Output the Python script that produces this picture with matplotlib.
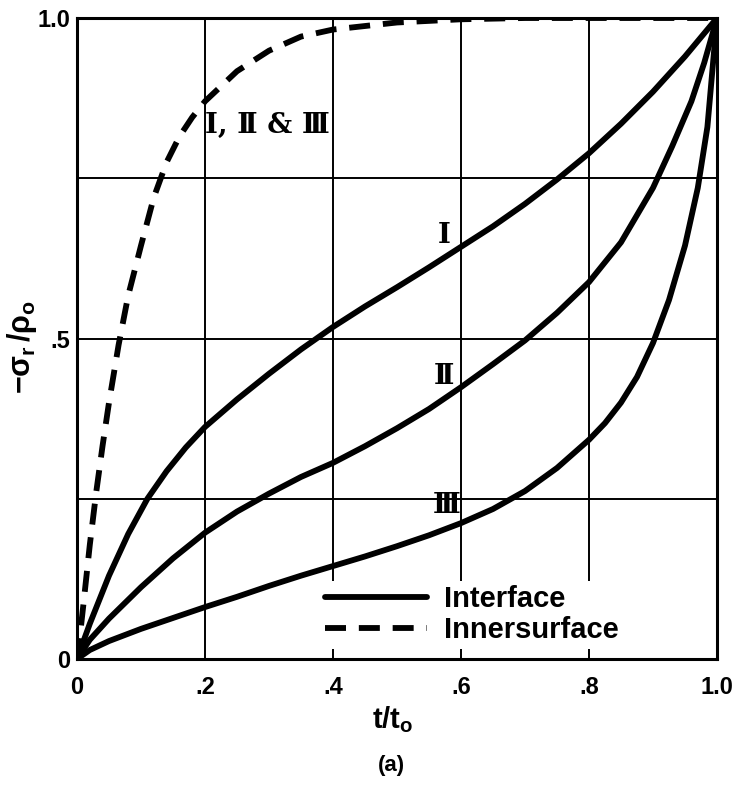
import numpy as np
import matplotlib
matplotlib.use("Agg")
import matplotlib.pyplot as plt

# Valores (t/t0, -sigma_r/rho_0)
t_inner = [0, 0.005, 0.01, 0.02, 0.03, 0.04, 0.05, 0.065, 0.08, 0.1, 0.12, 0.14, 0.16, 0.18, 0.2,
           0.25, 0.3, 0.35, 0.4, 0.5, 0.6, 0.7, 1.0]
s_inner = [0, 0.04, 0.085, 0.178, 0.26, 0.333, 0.4, 0.49, 0.567, 0.645, 0.72, 0.775, 0.815, 0.845, 0.87,
           0.917, 0.949, 0.971, 0.982, 0.993, 0.998, 1.0, 1.0]

t_I = [0, 0.02, 0.05, 0.08, 0.11, 0.14, 0.17, 0.2, 0.25, 0.3, 0.35, 0.4, 0.45, 0.5, 0.55, 0.6,
       0.65, 0.7, 0.75, 0.8, 0.85, 0.9, 0.95, 1.0]
s_I = [0, 0.055, 0.13, 0.195, 0.25, 0.293, 0.33, 0.362, 0.405, 0.445, 0.483, 0.518, 0.55, 0.58, 0.611, 0.643,
       0.675, 0.71, 0.748, 0.789, 0.835, 0.885, 0.94, 1.0]

t_II = [0, 0.02, 0.05, 0.1, 0.15, 0.2, 0.25, 0.3, 0.35, 0.4, 0.45, 0.5, 0.55, 0.6, 0.65, 0.7,
        0.75, 0.8, 0.85, 0.9, 0.93, 0.96, 0.98, 1.0]
s_II = [0, 0.03, 0.063, 0.112, 0.157, 0.197, 0.23, 0.258, 0.284, 0.306, 0.332, 0.36, 0.39, 0.424, 0.46, 0.497,
        0.54, 0.588, 0.65, 0.735, 0.8, 0.87, 0.93, 1.0]

t_III = [0, 0.02, 0.05, 0.1, 0.15, 0.2, 0.25, 0.3, 0.35, 0.4, 0.45, 0.5, 0.55, 0.6, 0.65, 0.7,
         0.75, 0.8, 0.825, 0.85, 0.875, 0.9, 0.925, 0.95, 0.97, 0.985, 1.0]
s_III = [0, 0.014, 0.028, 0.047, 0.064, 0.081, 0.097, 0.114, 0.13, 0.145, 0.16, 0.176, 0.193, 0.212, 0.234, 0.262,
         0.298, 0.342, 0.368, 0.4, 0.44, 0.493, 0.56, 0.645, 0.735, 0.83, 1.0]

x_ticks = [0, 0.2, 0.4, 0.6, 0.8, 1.0]
x_ticklabels = ['0', '.2', '.4', '.6', '.8', '1.0']
y_ticks = [0, 0.25, 0.5, 0.75, 1.0]
y_ticklabels = ['0', '', '.5', '', '1.0']

plt.rcParams['mathtext.fontset'] = 'custom'
plt.rcParams['mathtext.rm'] = 'Liberation Sans:bold'
plt.rcParams['mathtext.it'] = 'Liberation Sans:bold'
plt.rcParams['mathtext.bf'] = 'Liberation Sans:bold'

fig = plt.figure(figsize=(7.33, 7.9), dpi=100)
ax = fig.add_axes([77/733, 1 - 659/790, 640/733, 641/790])

lw = 4.2
ax.plot(t_I, s_I, color='black', lw=lw, solid_capstyle='round', solid_joinstyle='round', label='Interface')
ax.plot(t_II, s_II, color='black', lw=lw, solid_capstyle='round', solid_joinstyle='round')
ax.plot(t_III, s_III, color='black', lw=lw, solid_capstyle='round', solid_joinstyle='round')
ax.plot(t_inner, s_inner, color='black', lw=lw, dashes=(3.6, 2.2), label='Innersurface')

ax.set_xlim(0, 1.0)
ax.set_ylim(0, 1.0)
ax.set_xticks(x_ticks)
ax.set_xticklabels(x_ticklabels)
ax.set_yticks(y_ticks)
ax.set_yticklabels(y_ticklabels)
ax.tick_params(length=0, labelsize=17)
ax.tick_params(axis='x', pad=12)
ax.tick_params(axis='y', pad=5)
for lab in ax.get_xticklabels() + ax.get_yticklabels():
    lab.set_fontfamily('Liberation Sans')
    lab.set_fontweight('bold')
ax.grid(True, color='black', lw=1.4)
for sp in ax.spines.values():
    sp.set_linewidth(2.2)

# etiquetas de las curvas
rom = dict(fontsize=20, fontweight='bold', family=['DejaVu Serif', 'DejaVu Sans'], ha='center', va='center')
ax.text(0.574, 0.661, 'Ⅰ', **rom)
ax.text(0.574, 0.44, 'Ⅱ', **rom)
ax.text(0.577, 0.239, 'Ⅲ', **rom)
ax.text(0.2, 0.833, 'Ⅰ, Ⅱ & Ⅲ', fontsize=20, fontweight='bold',
        family=['DejaVu Serif', 'DejaVu Sans'], ha='left', va='center')

leg = ax.legend(loc='center left', bbox_to_anchor=(0.358, 0.069), frameon=True, fancybox=False,
                edgecolor='none', facecolor='white', framealpha=1, borderpad=0.15,
                handlelength=3.5, handletextpad=0.58, labelspacing=0.1,
                prop={'family': 'Liberation Sans', 'weight': 'bold', 'size': 21})

ax.set_ylabel(r'$-\sigma_r\,/\rho_o$', fontsize=22)
ax.yaxis.set_label_coords(-0.06, 0.487)
fig.text(393/733, 1 - 720/790, r'$t/t_o$', fontsize=21, ha='center', va='center')
fig.text(391/733, 1 - 765/790, '(a)', fontsize=16, fontweight='bold',
         family='Liberation Sans', ha='center', va='center')

plt.savefig('out.png', dpi=100)
